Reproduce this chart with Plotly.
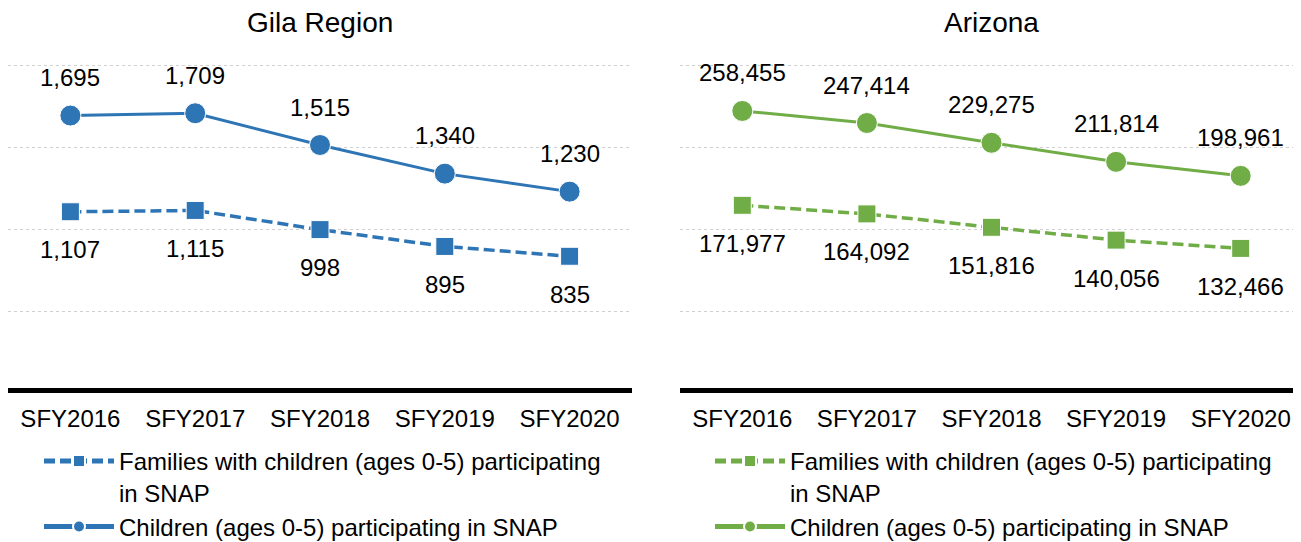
import plotly.graph_objects as go

years = ["SFY2016", "SFY2017", "SFY2018", "SFY2019", "SFY2020"]
gila_children = [1695, 1709, 1515, 1340, 1230]
gila_families = [1107, 1115, 998, 895, 835]
az_children = [258455, 247414, 229275, 211814, 198961]
az_families = [171977, 164092, 151816, 140056, 132466]

name_fam = "Families with children (ages 0-5) participating<br>in SNAP"
name_child = "Children (ages 0-5) participating in SNAP"

BLUE = "#2E75B6"
GREEN = "#70AD47"
FONT = "Arial, Liberation Sans, sans-serif"
FS = 24

fig = go.Figure()

def add_pair(fam, child, color, xa, ya, leg):
    fig.add_trace(go.Scatter(
        x=years, y=fam, mode="lines+markers", name=name_fam,
        line=dict(color=color, width=3.5, dash="11px,5px"),
        marker=dict(symbol="square", size=18, color=color, line=dict(color="white", width=1)),
        xaxis=xa, yaxis=ya, legend=leg, legendgroup=leg + "f", cliponaxis=False))
    fig.add_trace(go.Scatter(
        x=years, y=child, mode="lines+markers", name=name_child,
        line=dict(color=color, width=3),
        marker=dict(symbol="circle", size=21, color=color, line=dict(color="white", width=1)),
        xaxis=xa, yaxis=ya, legend=leg, legendgroup=leg + "c", cliponaxis=False))
    for xv, yv in zip(years, child):
        fig.add_annotation(x=xv, y=yv, xref=xa, yref=ya, text=f"{yv:,}", showarrow=False,
                           yshift=38, font=dict(size=FS, color="black", family=FONT))
    for xv, yv in zip(years, fam):
        fig.add_annotation(x=xv, y=yv, xref=xa, yref=ya, text=f"{yv:,}", showarrow=False,
                           yshift=-38, font=dict(size=FS, color="black", family=FONT))

add_pair(gila_families, gila_children, BLUE, "x", "y", "legend")
add_pair(az_families, az_children, GREEN, "x2", "y2", "legend2")

# page body has an 8px margin, so figure coordinates are offset by 8px on screen
W, H = 1301, 542
L, R, T, B = 0, 6, 56, 162
pw = W - L - R
ph = H - T - B
d1 = [0, 624 / pw]
d2 = [672 / pw, 1]

xcommon = dict(type="category", range=[-0.5, 4.5], showgrid=False, showline=True,
               linecolor="black", linewidth=5, ticks="", ticklabelstandoff=5,
               tickfont=dict(size=FS, color="black", family=FONT), zeroline=False)
ycommon = dict(showticklabels=False, showgrid=True, gridcolor="#D0D0D0", griddash="dot",
               gridwidth=1, zeroline=False, showline=False, ticks="")

legcommon = dict(yanchor="top", xanchor="left", valign="top", itemsizing="constant",
                 font=dict(size=FS, color="black", family=FONT), itemwidth=70,
                 traceorder="grouped", tracegroupgap=0, bgcolor="rgba(0,0,0,0)")

legy = -(431 - (H - B)) / ph

fig.update_layout(
    width=W, height=H, margin=dict(l=L, r=R, t=T, b=B),
    paper_bgcolor="white", plot_bgcolor="white",
    font=dict(family=FONT, color="black"),
    xaxis=dict(domain=d1, anchor="y", **xcommon),
    xaxis2=dict(domain=d2, anchor="y2", **xcommon),
    yaxis=dict(domain=[0, 1], anchor="x", range=[30, 2010], tick0=0, dtick=500, **ycommon),
    yaxis2=dict(domain=[0, 1], anchor="x2", range=[4500, 301500], tick0=0, dtick=75000, **ycommon),
    showlegend=True,
    legend=dict(x=31 / pw, y=legy, **legcommon),
    legend2=dict(x=702 / pw, y=legy, **legcommon),
)

fig.add_annotation(text="Gila Region", xref="x domain", yref="paper", x=0.5, y=1 + (T - 14) / ph,
                   showarrow=False, yanchor="middle", font=dict(size=28, color="black", family=FONT))
fig.add_annotation(text="Arizona", xref="x2 domain", yref="paper", x=0.5, y=1 + (T - 14) / ph,
                   showarrow=False, yanchor="middle", font=dict(size=28, color="black", family=FONT))

fig.write_html("out.html")
